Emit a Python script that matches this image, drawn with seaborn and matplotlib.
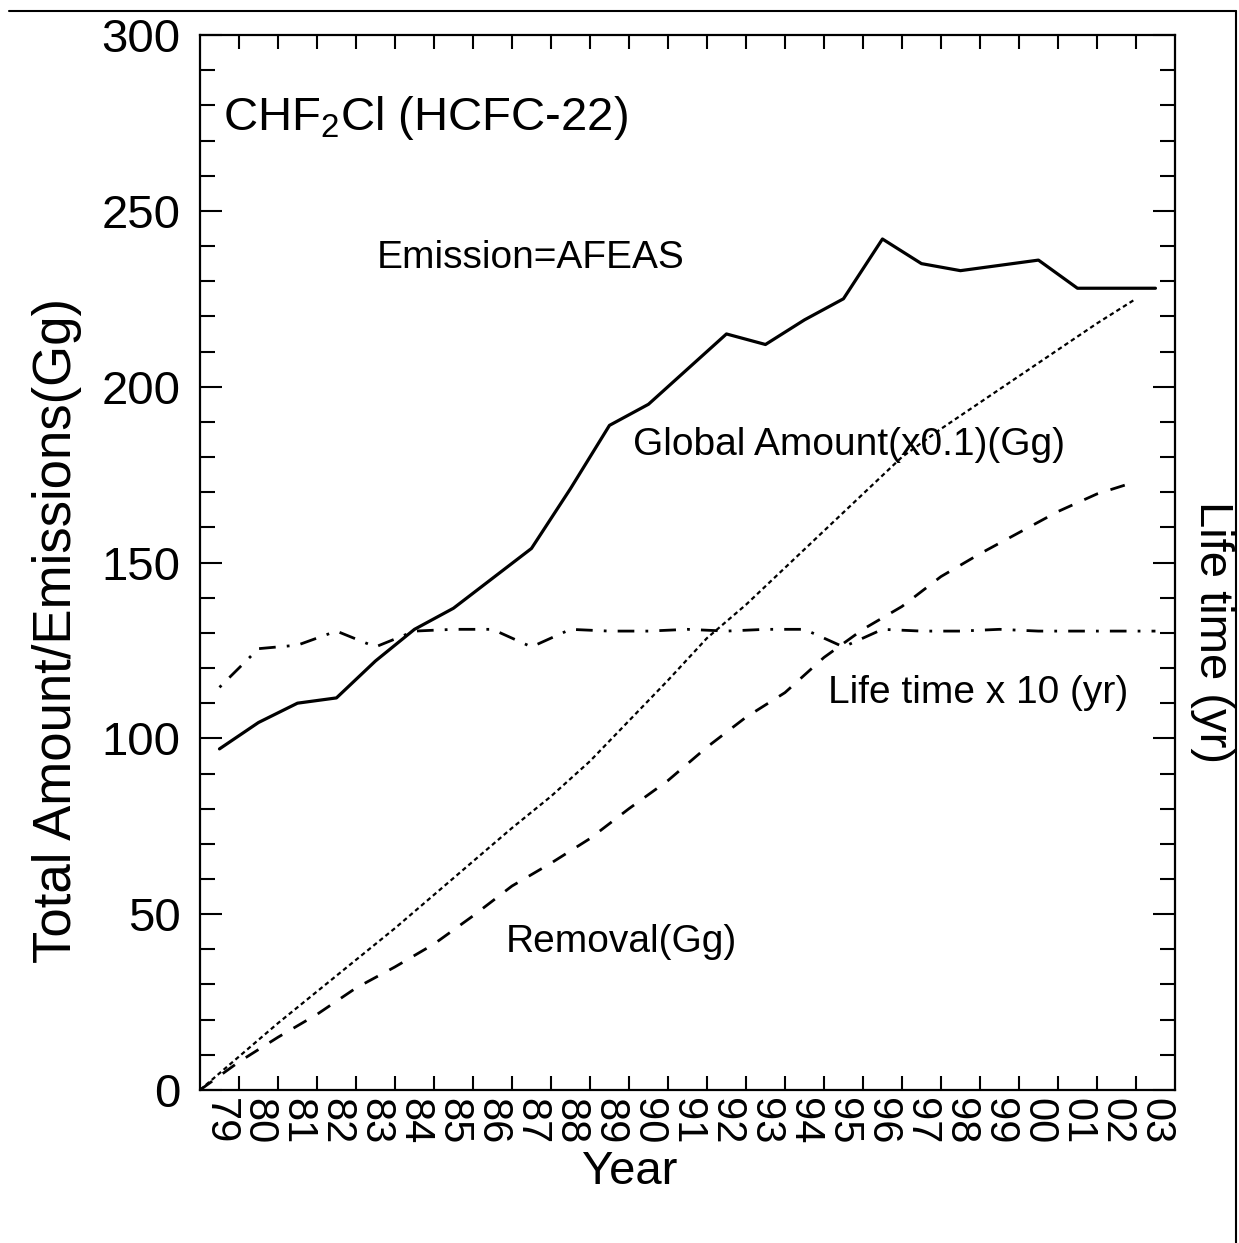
import numpy as np
import pandas as pd
import matplotlib
matplotlib.use("Agg")
import matplotlib.pyplot as plt
from matplotlib.lines import Line2D
from matplotlib.ticker import MultipleLocator
import seaborn as sns

# data
years = list(range(1979, 2004))
year_labels = ["79", "80", "81", "82", "83", "84", "85", "86", "87", "88", "89",
               "90", "91", "92", "93", "94", "95", "96", "97", "98", "99",
               "00", "01", "02", "03"]

# plotted at mid-year
emission = [97, 104.5, 110, 111.5, 122, 131, 137, 145.5, 154, 171, 189, 195, 205,
            215, 212, 219, 225, 242, 235, 233, 234.5, 236, 228, 228, 228]
lifetime_x10 = [114.5, 125.5, 126.5, 130.5, 126, 130.5, 131, 131, 126, 131, 130.5,
                130.5, 131, 130.5, 131, 131, 126, 131, 130.5, 130.5, 131, 130.5,
                130.5, 130.5, 130.5]

# plotted at start of year
global_x01 = [0, 9.5, 19, 28, 37, 46, 55.5, 65, 74.5, 83.5, 93.5, 105, 116.5, 128.5,
              138, 148.5, 159, 169.5, 180, 188, 195.5, 203, 210.5, 218, 225]
removal = [0, 8, 15, 21.5, 29, 35, 41.5, 49.5, 58, 64.5, 71.5, 80, 88, 97.5, 106,
           113, 123, 131, 137.5, 146, 152.5, 158.5, 164.5, 169.5, 173]

mid = np.array(years) + 0.5
start = np.array(years, dtype=float)

df_mid = pd.DataFrame({"year": mid, "emission": emission, "lifetime": lifetime_x10})
df_start = pd.DataFrame({"year": start, "global": global_x01, "removal": removal})

sns.set_style("ticks")
plt.rcParams["font.family"] = ["Liberation Sans", "DejaVu Sans"]
plt.rcParams["mathtext.fontset"] = "custom"
plt.rcParams["mathtext.rm"] = "Liberation Sans"
for key in ["text.color", "axes.labelcolor", "xtick.color", "ytick.color"]:
    plt.rcParams[key] = "black"

fig = plt.figure(figsize=(12.39, 12.43), dpi=100)
ax = fig.add_axes([0.1614, 0.1231, 0.9483 - 0.1614, 0.9718 - 0.1231])

sns.lineplot(data=df_mid, x="year", y="emission", ax=ax, color="black",
             linewidth=2.3, linestyle="-")
sns.lineplot(data=df_mid, x="year", y="lifetime", ax=ax, color="black",
             linewidth=2.0, linestyle=(0, (1, 4, 6, 4)))
sns.lineplot(data=df_start, x="year", y="global", ax=ax, color="black",
             linewidth=1.6, linestyle=(0, (2, 1.5)))
sns.lineplot(data=df_start, x="year", y="removal", ax=ax, color="black",
             linewidth=2.0, linestyle=(0, (5.4, 4.7)))

ax.set_xlim(1979, 2004)
ax.set_ylim(0, 300)

for side in ["left", "right", "top", "bottom"]:
    ax.spines[side].set_visible(True)
    ax.spines[side].set_linewidth(1.6)
    ax.spines[side].set_color("black")

# x: labels at mid-year, ticks at year boundaries
ax.set_xticks(mid)
ax.set_xticklabels(year_labels, rotation=270, fontsize=30, va="top", ha="center")
ax.set_xticks(np.arange(1980, 2004), minor=True)
ax.tick_params(axis="x", which="major", length=0, pad=6)
ax.tick_params(axis="x", which="minor", direction="in", length=10, width=1.5,
               top=True, bottom=True)

ax.yaxis.set_major_locator(MultipleLocator(50))
ax.yaxis.set_minor_locator(MultipleLocator(10))
ax.tick_params(axis="y", which="major", direction="in", length=16, width=1.5,
               left=True, right=True, labelsize=34, pad=14)
ax.tick_params(axis="y", which="minor", direction="in", length=11, width=1.5,
               left=True, right=True)

ax.set_xlabel("Year", fontsize=34)
ax.xaxis.set_label_coords(0.441, -0.057)
ax.set_ylabel("Total Amount/Emissions(Gg)", fontsize=38)
ax.yaxis.set_label_coords(-0.121, 0.436)

ax.text(1.0154, 0.434, "Life time (yr)", transform=ax.transAxes, rotation=270,
        rotation_mode="anchor", ha="center", va="bottom", fontsize=34)

ax.text(1979.6, 276.4, "CHF$_2$Cl (HCFC-22)", fontsize=34, ha="left", va="center")
ax.text(1987.47, 236.6, "Emission=AFEAS", fontsize=28, ha="center", va="center")
ax.text(1995.65, 183.4, "Global Amount(x0.1)(Gg)", fontsize=28, ha="center", va="center")
ax.text(1998.95, 112.9, "Life time x 10 (yr)", fontsize=28, ha="center", va="center")
ax.text(1989.8, 42.1, "Removal(Gg)", fontsize=28, ha="center", va="center")

# frame lines at the top and right of the page
fig.add_artist(Line2D([0.007, 0.9976], [0.9912, 0.9912], color="black", linewidth=1.5))
fig.add_artist(Line2D([0.9976, 0.9976], [0.0, 0.9912], color="black", linewidth=1.5))

fig.savefig("out.png", dpi=100, facecolor="white")
